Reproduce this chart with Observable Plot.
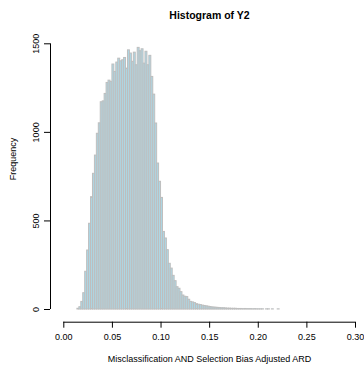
<!DOCTYPE html>
<html><head><meta charset="utf-8">
<script src="https://cdn.jsdelivr.net/npm/d3@7"></script>
<script src="https://cdn.jsdelivr.net/npm/@observablehq/plot@0.6"></script>
<style>
html,body{margin:0;padding:0;background:#fff;}
</style>
</head><body><div id="chart"></div>
<script>
// Histogram breaks
const firstBreak = 0.014;
const binWidth = 0.002;
// Frequencies per bin
const counts = [
  4, 13, 43, 92, 213, 333, 484, 634, 766, 869,
  992, 1051, 1170, 1175, 1217, 1279, 1292, 1285, 1383, 1341,
  1394, 1416, 1401, 1407, 1420, 1360, 1463, 1445, 1398, 1450,
  1379, 1477, 1458, 1469, 1388, 1455, 1379, 1432, 1313, 1213,
  1050, 824, 721, 630, 438, 401, 335, 258, 231, 190,
  160, 126, 117, 98, 79, 72, 70, 55, 43, 40,
  36, 30, 27, 25, 22, 20, 18, 16, 14, 12,
  11, 10, 9, 8, 7, 7, 6, 5, 5, 4,
  4, 4, 3, 3, 3, 2, 3, 2, 2, 2,
  1, 2, 1, 1, 1, 1, 0, 1, 1, 0,
  1, 0, 0, 1
];
const xTicks = [0, 0.05, 0.10, 0.15, 0.20, 0.25, 0.30];
const yTicks = [0, 500, 1000, 1500];
const titleText = "Histogram of Y2";
const xLabel = "Misclassification AND Selection Bias Adjusted ARD";
const yLabel = "Frequency";

const bins = counts.map((c, i) => ({
  x1: firstBreak + i * binWidth,
  x2: firstBreak + (i + 1) * binWidth,
  count: c
}));

const font = "'Liberation Sans', Arial, Helvetica, sans-serif";

const chart = Plot.plot({
  width: 364,
  height: 368,
  marginLeft: 50,
  marginRight: 0,
  marginTop: 0,
  marginBottom: 46.3,
  style: {fontFamily: font, fontSize: "9px", color: "#000", background: "#fff", overflow: "visible"},
  x: {domain: [0, 0.3], range: [63.3, 355]},
  y: {domain: [0, 1500], range: [309, 43.3]},
  marks: [
    Plot.rectY(bins, {x1: "x1", x2: "x2", y: "count", fill: "#add8e6", stroke: "#bebebe", strokeWidth: 1}),
    Plot.ruleY([0], {x1: xTicks[0], x2: xTicks[xTicks.length - 1], dy: 12.7, stroke: "#000", strokeWidth: 1}),
    Plot.axisX(xTicks, {tickSize: 6, tickPadding: 5, tickFormat: d3.format(".2f"), label: null, fontSize: 9}),
    Plot.ruleX([0], {y1: yTicks[0], y2: yTicks[yTicks.length - 1], dx: -13.3, stroke: "#000", strokeWidth: 1}),
    Plot.axisY(yTicks, {tickSize: 6, tickPadding: 6, tickRotate: -90, tickFormat: d3.format("d"), label: null, fontSize: 9}),
    Plot.text([titleText], {frameAnchor: "top", dx: 2, dy: 15, fontWeight: "bold", fontSize: 10.5, lineAnchor: "middle"}),
    Plot.text([xLabel], {frameAnchor: "bottom", dx: 2, dy: 37.3, fontSize: 9, lineAnchor: "middle"}),
    Plot.text([yLabel], {frameAnchor: "left", dx: -37, dy: 19, rotate: -90, fontSize: 9, lineAnchor: "middle"})
  ]
});
document.getElementById("chart").appendChild(chart);
</script>
</body></html>
